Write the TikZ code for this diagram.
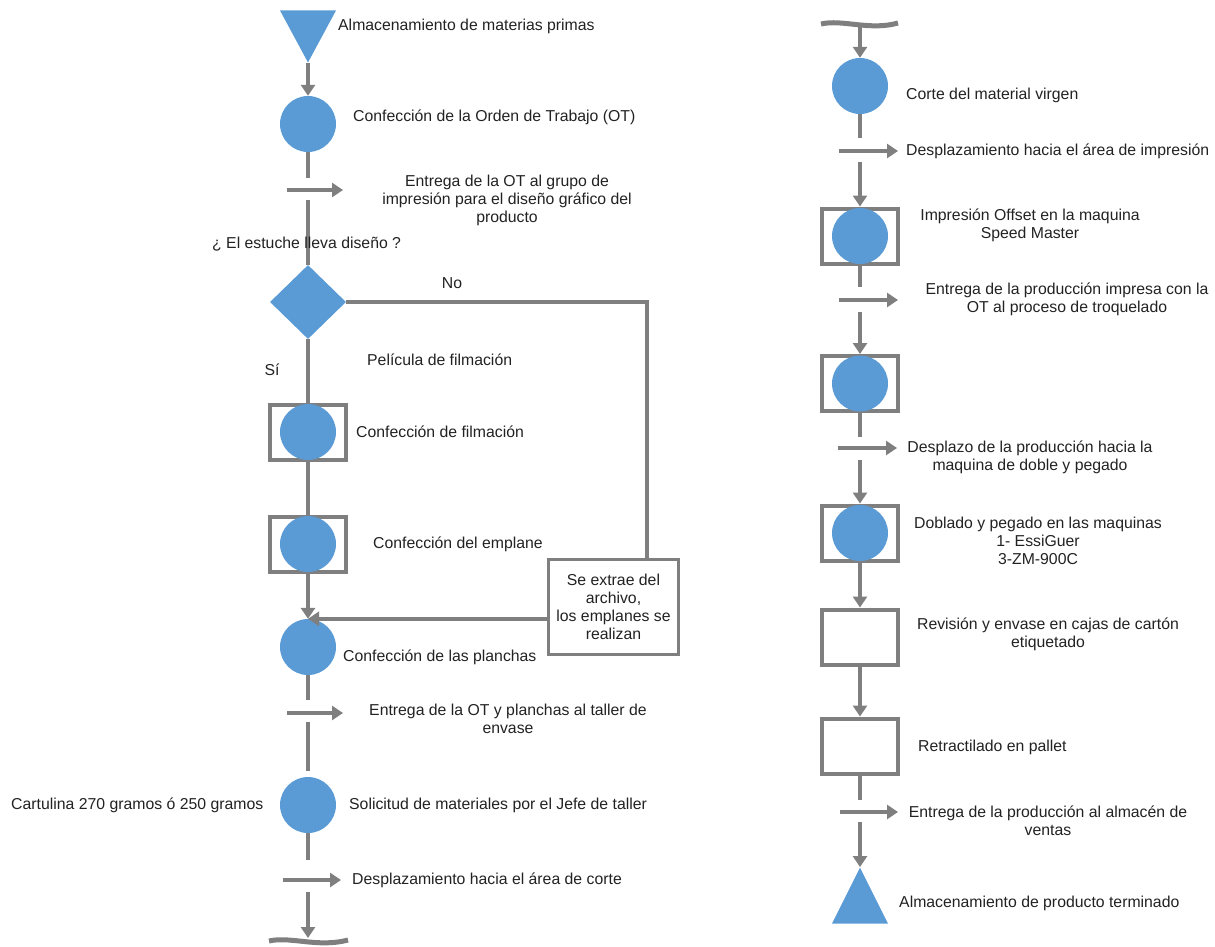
\documentclass[tikz,border=0pt]{standalone}
\usepackage{fontspec}
\setmainfont{Liberation Sans}
\usetikzlibrary{arrows.meta,shapes.geometric}
\definecolor{opblue}{HTML}{5B9BD5}
\definecolor{linegray}{HTML}{7F7F7F}
\definecolor{inkgray}{HTML}{222222}

\begin{document}
\begin{tikzpicture}[x=1pt,y=-1pt,
  every node/.style={font=\fontsize{15.8}{18}\selectfont, text=inkgray},
  oper/.style={circle, fill=opblue, minimum size=56pt, inner sep=0pt},
  frame/.style={draw=linegray, line width=4pt, minimum width=76pt, minimum height=55pt, inner sep=0pt, fill=white},
  decision/.style={diamond, fill=opblue, minimum width=76pt, minimum height=74pt, inner sep=0pt},
  store/.style={isosceles triangle, isosceles triangle stretches, fill=opblue, minimum width=56pt, minimum height=52pt, inner sep=0pt},
  link/.style={draw=linegray, line width=4pt},
  flow/.style={link, -{Triangle[length=11pt,width=14pt]}},
  lbl/.style={anchor=west, inner sep=0pt},
  note/.style={align=center, inner sep=0pt},
  brk/.style={draw=linegray, line width=5pt},
]
\useasboundingbox (0,0) rectangle (1215,946);

% ---------------- left column ----------------
\node[store, shape border rotate=-90, anchor=apex] (raw) at (308,63) {};
\node[oper] (ot) at (308,124) {};
\node[decision] (dq) at (308,302) {};
\node[frame] (fbfilm) at (308,432) {};
\node[oper] (film) at (308,432) {};
\node[frame] (fbempl) at (308,544) {};
\node[oper] (empl) at (308,544) {};
\node[oper] (plan) at (308,647) {};
\node[draw=linegray, line width=3pt, minimum width=130pt, minimum height=95pt, inner sep=0pt, fill=white] (arch) at (613.5,607) {};
\node[oper] (solic) at (308,805) {};

% transport symbols (left)
\coordinate (t1a) at (308,178); \coordinate (t1b) at (308,200);
\coordinate (t1s) at (287,190); \coordinate (t1e) at (343,190);
\coordinate (t2a) at (308,700); \coordinate (t2b) at (308,722);
\coordinate (t2s) at (287,713); \coordinate (t2e) at (343,713);
\coordinate (t3a) at (308,860); \coordinate (t3b) at (308,892);
\coordinate (t3s) at (283,880); \coordinate (t3e) at (341,880);
\coordinate (brkL) at (308,938);
\coordinate (nocorner) at (647,302);

\draw[flow] (raw.apex) -- (ot);
\draw[link] (ot) -- (t1a);
\draw[flow] (t1s) -- (t1e);
\draw[link] (t1b) -- (dq);
\draw[link] (dq) -- (fbfilm);
\draw[link] (fbfilm) -- (fbempl);
\draw[flow] (fbempl) -- (plan.north);
\draw[link] (dq.east) -- (nocorner) -- (nocorner |- arch.north);
\draw[flow] (arch.west |- plan.north) -- (plan.north);
\draw[link] (plan) -- (t2a);
\draw[flow] (t2s) -- (t2e);
\draw[link, shorten >=6pt] (t2b) -- (solic);
\draw[link] (solic) -- (t3a);
\draw[flow] (t3s) -- (t3e);
\draw[flow] (t3b) -- (brkL);
\draw[brk] (269,941) .. controls (290,936) and (318,948) .. (348,940);

% labels (left)
\node[lbl] (l1) at (338,26) {Almacenamiento de materias primas};
\node[lbl] (l2) at (353,117) {Confección de la Orden de Trabajo (OT)};
\node[note] (l3) at (507,200) {Entrega de la OT al grupo de\\impresión para el diseño gráfico del\\producto};
\node[lbl] (l4) at (212,244) {¿ El estuche lleva diseño ?};
\node[inner sep=0pt] (l5) at (452,283) {No};
\node[inner sep=0pt] (l6) at (272,370) {Sí};
\node[lbl] (l7) at (367,360) {Película de filmación};
\node[lbl] (l8) at (356,432) {Confección de filmación};
\node[lbl] (l9) at (373,544) {Confección del emplane};
\node[note] (l10) at (arch) {Se extrae del\\archivo,\\los emplanes se\\realizan};
\node[lbl] (l11) at (343,657) {Confección de las planchas};
\node[note] (l12) at (508,719) {Entrega de la OT y planchas al taller de\\envase};
\node[lbl] (l13) at (11,805) {Cartulina 270 gramos ó 250 gramos};
\node[lbl] (l14) at (349,805) {Solicitud de materiales por el Jefe de taller};
\node[lbl] (l15) at (352,880) {Desplazamiento hacia el área de corte};

% ---------------- right column ----------------
\coordinate (brkR) at (860,25);
\node[oper] (corte) at (860,86) {};
\node[frame] (fbimp) at (860,236) {};
\node[oper] (imp) at (860,236) {};
\node[frame] (fbtroq) at (860,383.5) {};
\node[oper] (troq) at (860,383.5) {};
\node[frame] (fbdobl) at (860,533) {};
\node[oper] (dobl) at (860,533) {};
\node[frame] (rev) at (860,637) {};
\node[frame] (retr) at (860,746) {};
\node[store, shape border rotate=90, anchor=apex, minimum height=56pt] (fin) at (860,867) {};

\coordinate (t4a) at (860,138); \coordinate (t4b) at (860,162);
\coordinate (t4s) at (839,151); \coordinate (t4e) at (898,151);
\coordinate (t5a) at (860,287); \coordinate (t5b) at (860,312);
\coordinate (t5s) at (839,300); \coordinate (t5e) at (898,300);
\coordinate (t6a) at (860,437); \coordinate (t6b) at (860,460);
\coordinate (t6s) at (838,448); \coordinate (t6e) at (897,448);
\coordinate (t7a) at (860,800); \coordinate (t7b) at (860,822);
\coordinate (t7s) at (840,812); \coordinate (t7e) at (898,812);

\draw[brk] (821,24) .. controls (842,19) and (870,31) .. (898,23);
\draw[flow] (brkR) -- (corte);
\draw[link] (corte) -- (t4a);
\draw[flow] (t4s) -- (t4e);
\draw[flow] (t4b) -- (fbimp);
\draw[link] (fbimp) -- (t5a);
\draw[flow] (t5s) -- (t5e);
\draw[flow] (t5b) -- (fbtroq);
\draw[link] (fbtroq) -- (t6a);
\draw[flow] (t6s) -- (t6e);
\draw[flow] (t6b) -- (fbdobl);
\draw[flow] (fbdobl) -- (rev);
\draw[flow] (rev) -- (retr);
\draw[link] (retr) -- (t7a);
\draw[flow] (t7s) -- (t7e);
\draw[flow] (t7b) -- (fin.apex);

% labels (right)
\node[lbl] (r1) at (906,95) {Corte del material virgen};
\node[lbl] (r2) at (906,151) {Desplazamiento hacia el área de impresión};
\node[note] (r3) at (1030,225) {Impresión Offset en la maquina\\Speed Master};
\node[note] (r4) at (1067,299) {Entrega de la producción impresa con la\\OT al proceso de troquelado};
\node[note] (r5) at (1030,457) {Desplazo de la producción hacia la\\maquina de doble y pegado};
\node[note] (r6) at (1038,541) {Doblado y pegado en las maquinas\\1- EssiGuer\\3-ZM-900C};
\node[note] (r7) at (1048,634) {Revisión y envase en cajas de cartón\\etiquetado};
\node[lbl] (r8) at (918,747) {Retractilado en pallet};
\node[note] (r9) at (1048,821) {Entrega de la producción al almacén de\\ventas};
\node[lbl] (r10) at (899,903) {Almacenamiento de producto terminado};
\end{tikzpicture}
\end{document}
